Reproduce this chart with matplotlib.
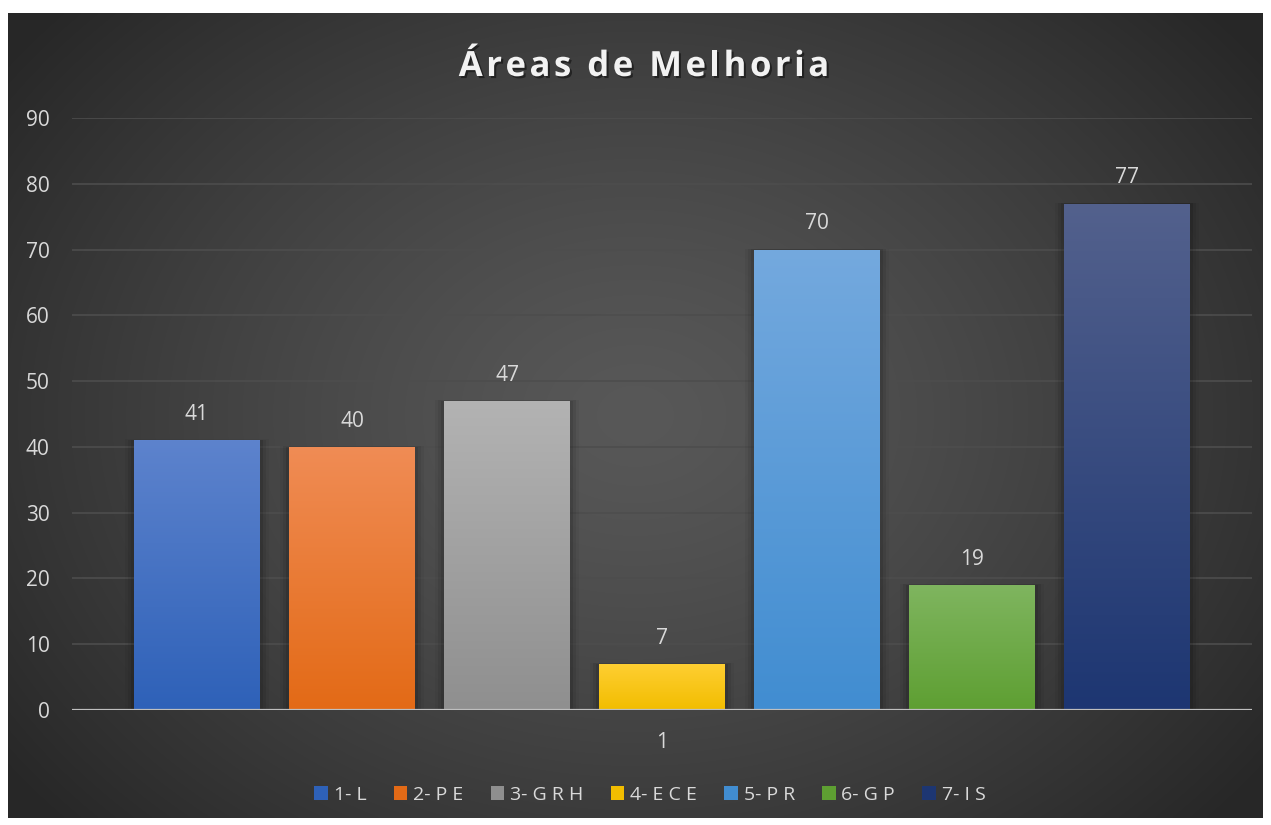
import numpy as np
import matplotlib
matplotlib.use("Agg")
import matplotlib.pyplot as plt
import matplotlib.patheffects as pe
from matplotlib.colors import LinearSegmentedColormap
from matplotlib.patches import Rectangle

# Data
categories = ["1- L", "2- P E", "3- G R H", "4- E C E", "5- P R", "6- G P", "7- I S"]
values = [41, 40, 47, 7, 70, 19, 77]
x_label = "1"
title = "Áreas de Melhoria"
yticks = [0, 10, 20, 30, 40, 50, 60, 70, 80, 90]

# Gradient colours (top, bottom) for each bar
top_colors = ["#5d83cd", "#f08c55", "#b3b3b3", "#ffcf33", "#74a9de", "#7fb55f", "#53618d"]
bot_colors = ["#2e61b8", "#e36a16", "#8f8f8f", "#f2bd00", "#418dd1", "#5e9f32", "#1d3672"]

W, H = 1271, 825
fig = plt.figure(figsize=(W / 100, H / 100), dpi=100, facecolor="white")

# Dark panel with a soft radial gradient
bg = fig.add_axes([8 / W, 7 / H, 1255 / W, 805 / H])
bg.set_axis_off()
gy, gx = np.mgrid[0:1:400j, 0:1:600j]
r = np.sqrt(((gx - 0.5) / 0.62) ** 2 + ((gy - 0.5) / 0.75) ** 2)
r = np.clip(r, 0, 1)
light = 0.345 - 0.19 * r ** 1.3
bg.imshow(np.dstack([light, light, light]), aspect="auto", extent=[0, 1, 0, 1],
          interpolation="bilinear")
bg.set_xlim(0, 1)
bg.set_ylim(0, 1)

# Main plot area
ax = fig.add_axes([72 / W, (H - 710) / H, 1180 / W, 592 / H])
ax.set_facecolor("none")
ax.set_xlim(-0.5, 0.5)
ax.set_ylim(0, 90)

n = len(values)
step = 155 / 1180
width = 126 / 1180
offsets = (np.arange(n) - (n - 1) / 2) * step

text_col = "#d9d9d9"
grid_col = "#4d4d4d"
font = "Open Sans"
fs = 15

for yv in yticks[1:]:
    ax.axhline(yv, color=grid_col, lw=1.2, zorder=0)

bars = ax.bar(offsets, values, width=width, color="none", zorder=2)
for i, b in enumerate(bars):
    x0, y0 = b.get_x(), b.get_y()
    w, h = b.get_width(), b.get_height()
    # soft shadow around bar
    for k, a in enumerate([0.10, 0.07, 0.04]):
        d = (k + 1) * 0.0025
        ax.add_patch(Rectangle((x0 - d, y0), w + 2 * d, h + d * 20,
                               facecolor="black", alpha=a, lw=0, zorder=1.5))
    cmap = LinearSegmentedColormap.from_list(f"g{i}", [bot_colors[i], top_colors[i]])
    grad = np.linspace(0, 1, 256).reshape(-1, 1)
    im = ax.imshow(grad, cmap=cmap, aspect="auto", origin="lower",
                   extent=[x0, x0 + w, y0, y0 + h], zorder=2.5)
    im.set_clip_path(b)
    ax.text(offsets[i], values[i] + 2.3, str(values[i]), ha="center", va="bottom",
            color=text_col, fontsize=fs, family=font)

ax.set_xlim(-0.5, 0.5)
ax.set_ylim(0, 90)

ax.axhline(0, color="#bfbfbf", lw=1.6, zorder=3)

for s in ax.spines.values():
    s.set_visible(False)
ax.set_yticks(yticks)
ax.set_yticklabels([str(v) for v in yticks], color=text_col, fontsize=fs, family=font)
ax.set_xticks([0])
ax.set_xticklabels([x_label], color=text_col, fontsize=fs, family=font)
ax.tick_params(axis="both", length=0)
ax.tick_params(axis="y", pad=16)
ax.tick_params(axis="x", pad=16)

# Letter-spaced title with a soft shadow
fig.canvas.draw()
renderer = fig.canvas.get_renderer()
title_kw = dict(color="#f2f2f2", fontsize=25, fontweight="bold", family=font,
                va="baseline", ha="left")
tracking = 3.5  # extra pixels between characters
widths = []
for ch in title:
    if ch == " ":
        t = fig.text(0, 0, "a a", **title_kw)
        wa = fig.text(0, 0, "aa", **title_kw)
        wsp = t.get_window_extent(renderer).width - wa.get_window_extent(renderer).width
        t.remove(); wa.remove()
        widths.append(wsp)
    else:
        t = fig.text(0, 0, ch, **title_kw)
        widths.append(t.get_window_extent(renderer).width)
        t.remove()
total = sum(widths) + tracking * (len(title) - 1)
xpos = 644 - total / 2
base_y = H - 76
shadow = [pe.withSimplePatchShadow(offset=(1.5, -1.5), shadow_rgbFace="black", alpha=0.45)]
for ch, wch in zip(title, widths):
    if ch != " ":
        fig.text(xpos / W, base_y / H, ch, path_effects=shadow, **title_kw)
    xpos += wch + tracking

# Legend
handles = [Rectangle((0, 0), 1, 1, facecolor=c, edgecolor="none") for c in bot_colors]
leg = fig.legend(handles, categories, loc="center", bbox_to_anchor=(650 / W, 1 - 795 / H),
                 ncol=n, frameon=False, handlelength=0.7, handleheight=0.75,
                 handletextpad=0.3, columnspacing=1.4,
                 prop={"family": font, "size": 14})
for t in leg.get_texts():
    t.set_color(text_col)

fig.savefig("out.png", dpi=100, facecolor="white")
